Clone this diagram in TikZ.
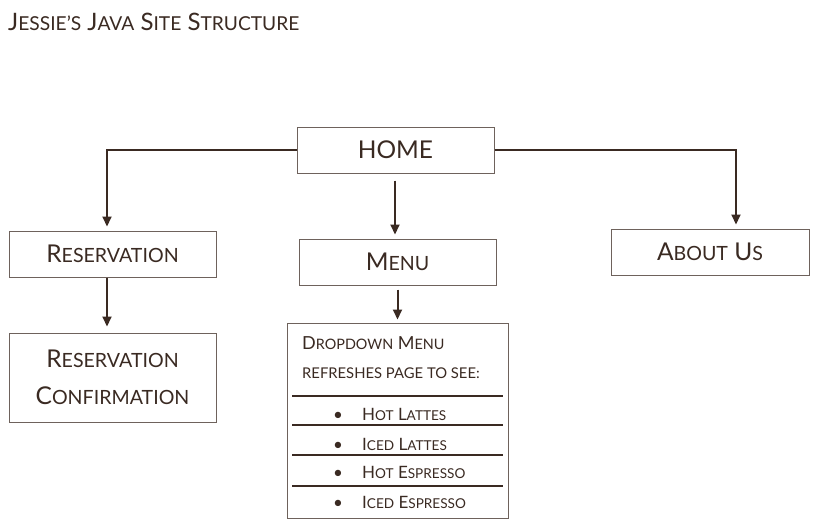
\documentclass[tikz,border=0pt]{standalone}
\usepackage{fontspec}
\setmainfont{Lato}
\usepackage{graphicx}
\usetikzlibrary{arrows.meta}
\definecolor{inkbrown}{HTML}{3A2A22}
\definecolor{boxbrown}{HTML}{6E625C}
% fake small caps: big first letter, smaller rest
\newcommand{\fsc}[2]{#1\scalebox{0.8}{#2}}
\begin{document}
\begin{tikzpicture}[x=1pt, y=-1pt,
    page/.style={box, minimum width=197pt, minimum height=46pt},
    box/.style={draw=boxbrown, line width=1pt, inner sep=0pt, text=inkbrown,
      font=\fontsize{24.5}{37}\selectfont, align=center},
    conn/.style={draw=inkbrown, line width=2pt, -{Triangle[length=10pt,width=9pt]},
      shorten >=4pt},
    sep/.style={draw=inkbrown, line width=1.8pt},
    txt/.style={inner sep=0pt, anchor=base west, text=inkbrown}]
  \useasboundingbox[fill=white] (0,0) rectangle (815,531);
  \node[txt, font=\fontsize{24}{28}\selectfont] (title) at (8,30)
    {\fsc{J}{ESSIE’S} \fsc{J}{AVA} \fsc{S}{ITE} \fsc{S}{TRUCTURE}};
  % pages
  \node[page] (home) at (395.5,150) {HOME};
  \node[page, minimum width=207pt] (resv) at (112.5,254) {\fsc{R}{ESERVATION}};
  \node[page] (menu) at (397.5,262) {\fsc{M}{ENU}};
  \node[page, minimum width=198pt] (about) at (710,252) {\fsc{A}{BOUT} \fsc{U}{S}};
  \node[box, minimum width=207pt, minimum height=89pt] (conf) at (112.5,377.5)
    {\fsc{R}{ESERVATION}\\\fsc{C}{ONFIRMATION}};
  \node[box, minimum width=221pt, minimum height=195pt] (drop) at (397.5,420.5) {};
  % dropdown contents
  \node[txt, font=\fontsize{18}{20}\selectfont] (dtitle) at (302,349) {\fsc{D}{ROPDOWN} \fsc{M}{ENU}};
  \node[txt, font=\fontsize{18.5}{20}\selectfont] (dsub) at (302,378) {\scalebox{0.8}{REFRESHES PAGE TO SEE:}};
  \node[txt, font=\fontsize{17}{18}\selectfont] (item1) at (333,420) {\makebox[29pt][l]{\textbullet}\fsc{H}{OT} \fsc{L}{ATTES}};
  \node[txt, font=\fontsize{17}{18}\selectfont] (item2) at (333,450) {\makebox[29pt][l]{\textbullet}\fsc{I}{CED} \fsc{L}{ATTES}};
  \node[txt, font=\fontsize{17}{18}\selectfont] (item3) at (333,478) {\makebox[29pt][l]{\textbullet}\fsc{H}{OT} \fsc{E}{SPRESSO}};
  \node[txt, font=\fontsize{17}{18}\selectfont] (item4) at (333,508) {\makebox[29pt][l]{\textbullet}\fsc{I}{CED} \fsc{E}{SPRESSO}};
  \draw[sep] (292,396) -- (503,396);
  \draw[sep] (292,425) -- (503,425);
  \draw[sep] (292,455) -- (503,455);
  \draw[sep] (292,486) -- (503,486);
  % links
  \draw[conn] (home.west) -| ([xshift=-5.5pt]resv.north);
  \draw[conn] (home.east) -| ([xshift=26pt]about.north);
  \draw[conn, shorten <=7pt] ([xshift=-0.5pt]home.south) -- ([xshift=-0.5pt]home.south |- menu.north);
  \draw[conn, shorten >=6pt] ([xshift=-5.5pt]resv.south) -- ([xshift=-5.5pt]conf.north);
  \draw[conn, shorten <=4pt, shorten >=3pt] (menu.south) -- (menu.south |- drop.north);
\end{tikzpicture}
\end{document}
